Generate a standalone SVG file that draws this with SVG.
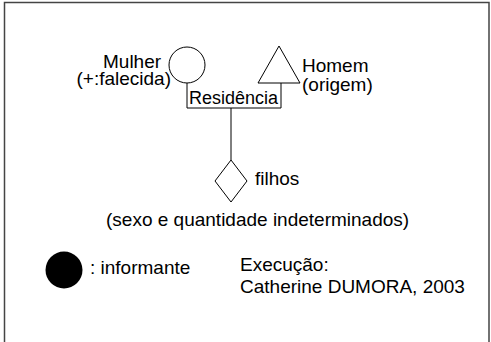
<svg xmlns="http://www.w3.org/2000/svg" width="491" height="342" viewBox="0 0 491 342">
<style>
text{font-family:"Liberation Sans",Arial,sans-serif;font-size:19px;fill:#000}
.s{fill:none;stroke:#000;stroke-width:1}
</style>
<rect width="491" height="342" fill="#fff"/>
<path d="M4.5 342V2.5H489V342" fill="none" stroke="#444" stroke-width="1.5"/>
<g id="connectors">
<path class="s" d="M187 83V108H281V83"/>
<path class="s" d="M231 108V160"/>
</g>
<g id="mulher">
<circle class="s" cx="187" cy="65" r="18"/>
<text x="103" y="68">Mulher</text>
<text x="171" y="85" text-anchor="end">(+:falecida)</text>
</g>
<g id="homem">
<path class="s" d="M279 46L300 83H258Z"/>
<text x="302" y="72">Homem</text>
<text x="302" y="91">(origem)</text>
</g>
<g id="residencia">
<text x="189" y="104" style="font-size:18px">Residência</text>
</g>
<g id="filhos">
<path class="s" d="M231 160L247 181L231 202L215 181Z"/>
<text x="255" y="185">filhos</text>
</g>
<g id="nota">
<text x="106" y="226">(sexo e quantidade indeterminados)</text>
</g>
<g id="informante">
<circle cx="64" cy="270" r="18.5" fill="#000"/>
<text x="90" y="274">: informante</text>
</g>
<g id="execucao">
<text x="240" y="271">Execução:</text>
<text x="240" y="293">Catherine DUMORA, 2003</text>
</g>
</svg>
